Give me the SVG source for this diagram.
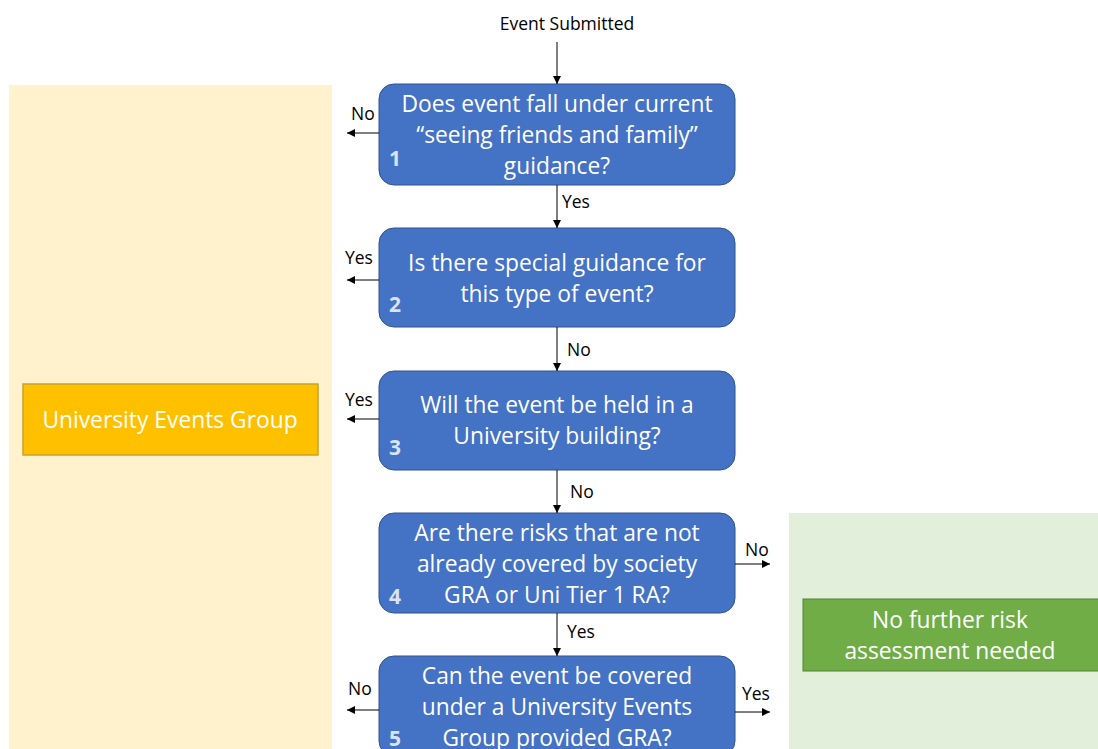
<svg xmlns="http://www.w3.org/2000/svg" width="1098" height="749" viewBox="0 0 1098 749">
<defs>
<marker id="ah" viewBox="0 0 10 10" refX="10" refY="5" markerWidth="8" markerHeight="8" markerUnits="userSpaceOnUse" orient="auto"><path d="M0,0 L10,5 L0,10 z" fill="#000"/></marker>
<style>
.q{fill:#4472C4;stroke:#2F528F;stroke-width:1}
.qt{font-family:"Open Sans","Liberation Sans",Arial,sans-serif;font-size:22.8px;fill:#fff;text-anchor:middle}
.num{font-family:"Open Sans","Liberation Sans",Arial,sans-serif;font-size:21px;font-weight:bold;fill:#DAE3F3}
.lbl{font-family:"Open Sans","Liberation Sans",Arial,sans-serif;font-size:17.5px;fill:#000}
.c{stroke:#000;stroke-width:1;fill:none;marker-end:url(#ah)}
</style>
</defs>
<rect width="1098" height="749" fill="#fff"/>
<g id="panel-yellow"><rect x="9" y="85" width="323" height="664" fill="#FFF2CC"/></g>
<g id="panel-green"><rect x="789" y="513" width="309" height="236" fill="#E2EFDA"/></g>
<g id="ueg"><rect x="23" y="384" width="295" height="71" fill="#FFC000" stroke="#C9A227" stroke-width="1.5"/><text class="qt" x="170" y="428">University Events Group</text></g>
<g id="nofurther"><rect x="803" y="599" width="300" height="72" fill="#70AD47" stroke="#548235" stroke-width="1"/><text class="qt" x="950" y="628">No further risk</text><text class="qt" x="950" y="659">assessment needed</text></g>
<g id="start"><text class="lbl" x="567" y="30" text-anchor="middle">Event Submitted</text></g>
<g id="q1"><rect class="q" x="379" y="84" width="356" height="101" rx="15"/><text class="qt" x="557" y="112">Does event fall under current</text><text class="qt" x="557" y="143">“seeing friends and family”</text><text class="qt" x="557" y="174">guidance?</text><text class="num" x="389" y="166">1</text></g>
<g id="q2"><rect class="q" x="379" y="228" width="356" height="99" rx="15"/><text class="qt" x="557" y="271">Is there special guidance for</text><text class="qt" x="557" y="302">this type of event?</text><text class="num" x="389" y="312">2</text></g>
<g id="q3"><rect class="q" x="379" y="371" width="356" height="99" rx="15"/><text class="qt" x="557" y="413">Will the event be held in a</text><text class="qt" x="557" y="444">University building?</text><text class="num" x="389" y="455">3</text></g>
<g id="q4"><rect class="q" x="379" y="513" width="356" height="100" rx="15"/><text class="qt" x="557" y="541">Are there risks that are not</text><text class="qt" x="557" y="572">already covered by society</text><text class="qt" x="557" y="603">GRA or Uni Tier 1 RA?</text><text class="num" x="389" y="604">4</text></g>
<g id="q5"><rect class="q" x="379" y="656" width="356" height="100" rx="15"/><text class="qt" x="557" y="684">Can the event be covered</text><text class="qt" x="557" y="715">under a University Events</text><text class="qt" x="557" y="746">Group provided GRA?</text><text class="num" x="389" y="746">5</text></g>
<g id="connectors">
<line class="c" x1="557" y1="42" x2="557" y2="84"/>
<line class="c" x1="557" y1="185" x2="557" y2="228"/>
<line class="c" x1="557" y1="327" x2="557" y2="371"/>
<line class="c" x1="557" y1="470" x2="557" y2="513"/>
<line class="c" x1="557" y1="613" x2="557" y2="656"/>
<line class="c" x1="379" y1="133" x2="347" y2="133"/>
<line class="c" x1="379" y1="280" x2="347" y2="280"/>
<line class="c" x1="379" y1="419" x2="347" y2="419"/>
<line class="c" x1="379" y1="710" x2="347" y2="710"/>
<line class="c" x1="735" y1="564" x2="770" y2="564"/>
<line class="c" x1="735" y1="712" x2="770" y2="712"/>
<text class="lbl" x="562" y="208">Yes</text>
<text class="lbl" x="567" y="356">No</text>
<text class="lbl" x="570" y="498">No</text>
<text class="lbl" x="567" y="638">Yes</text>
<text class="lbl" x="351" y="120">No</text>
<text class="lbl" x="345" y="264">Yes</text>
<text class="lbl" x="345" y="406">Yes</text>
<text class="lbl" x="348" y="695">No</text>
<text class="lbl" x="745" y="556">No</text>
<text class="lbl" x="742" y="700">Yes</text>
</g>
</svg>
